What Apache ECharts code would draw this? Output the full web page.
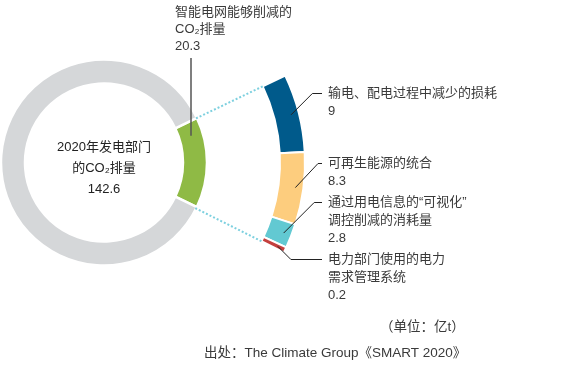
<!DOCTYPE html>
<html>
<head>
<meta charset="utf-8">
<script src="https://cdn.jsdelivr.net/npm/echarts@6/dist/echarts.min.js"></script>
<style>
html, body { margin: 0; padding: 0; background: #fff; }
#main { width: 570px; height: 375px; }
</style>
</head>
<body>
<div id="main"></div>
<script>
// 数据（单位：亿t）
const totalName = '2020年发电部门\n的CO₂排量';
const totalValue = 142.6;
const smartName = '智能电网能够削减的\nCO₂排量';
const smartValue = 20.3;
const partNames = [
    '输电、配电过程中减少的损耗',
    '可再生能源的统合',
    '通过用电信息的“可视化”\n调控削减的消耗量',
    '电力部门使用的电力\n需求管理系统'
];
const partValues = [9, 8.3, 2.8, 0.2];
const partColors = ['#005a8b', '#fdcd7e', '#62c9d2', '#c4403e'];

// 布局
const cx = 104, cy = 162.5;
const font = '"Liberation Sans", "Noto Sans CJK SC", sans-serif';
const textColor = '#3a3a3a';
const partLabelTop = [84, 154, 193, 250];
const minAngle = 1.6;

const rest = +(totalValue - smartValue).toFixed(1);
const half = smartValue / totalValue * 180;

// 按 ECharts 的 minAngle 规则算出右侧各段的角度
let fixedAngle = 0, bigSum = 0;
[...partValues, rest].forEach(v => {
    if (v / totalValue * 360 < minAngle) fixedAngle += minAngle;
    else bigSum += v;
});
const unit = (360 - fixedAngle) / bigSum;
const partAngles = partValues.map(v => v / totalValue * 360 < minAngle ? minAngle : v * unit);
const arcEnd = half - partAngles.reduce((a, b) => a + b, 0);

const rad = d => d * Math.PI / 180;
const pt = (r, a) => [cx + r * Math.cos(rad(a)), cy - r * Math.sin(rad(a))];

// 右侧引线
const leaders = [];
let acc = half;
partAngles.forEach((a, i) => {
    const mid = acc - a / 2;
    acc -= a;
    const p0 = pt(193, mid);
    const ly = partLabelTop[i] + 9.5;
    const bx = Math.min(p0[0] + Math.abs(ly - p0[1]), 318);
    leaders.push({
        type: 'polyline',
        silent: true,
        z: 100,
        shape: { points: [p0, [bx, ly], [322, ly]] },
        style: { stroke: '#222', lineWidth: 1, fill: null }
    });
});

// 绿色标签的竖线
const gx = 191;
const gy = cy - Math.sqrt(91 * 91 - (gx - cx) * (gx - cx));

const chart = echarts.init(document.getElementById('main'));

const option = {
    animation: false,
    polar: { center: [cx, cy], radius: 201 },
    angleAxis: { type: 'value', min: 0, max: 360, startAngle: 0, clockwise: false, show: false },
    radiusAxis: { type: 'value', min: 0, max: 201, show: false },
    series: [
        {
            type: 'pie',
            center: [cx, cy],
            radius: [79, 103],
            startAngle: half,
            avoidLabelOverlap: false,
            silent: true,
            itemStyle: { borderColor: '#fff', borderWidth: 2.5 },
            label: {
                show: true,
                position: 'outside',
                formatter: '{b}\n{c}',
                color: textColor,
                fontFamily: font,
                fontSize: 13,
                lineHeight: 17
            },
            labelLine: { show: false },
            labelLayout: p => p.dataIndex === 0
                ? { x: 175, y: 3.5, align: 'left', verticalAlign: 'top' }
                : {},
            data: [
                { name: smartName, value: smartValue, itemStyle: { color: '#8fba45' } },
                { name: '其他', value: rest, itemStyle: { color: '#d5d7d9' }, label: { show: false } }
            ]
        },
        {
            type: 'pie',
            center: [cx, cy],
            radius: [176, 201],
            startAngle: half,
            minAngle: minAngle,
            avoidLabelOverlap: false,
            silent: true,
            itemStyle: { borderColor: '#fff', borderWidth: 2 },
            label: {
                show: true,
                position: 'outside',
                formatter: '{b}\n{c}',
                color: textColor,
                fontFamily: font,
                fontSize: 13,
                lineHeight: 18
            },
            labelLine: { show: false },
            labelLayout: p => p.dataIndex < partNames.length
                ? { x: 328, y: partLabelTop[p.dataIndex], align: 'left', verticalAlign: 'top' }
                : {},
            data: [
                ...partNames.map((n, i) => ({ name: n, value: partValues[i], itemStyle: { color: partColors[i] } })),
                { name: '', value: rest, itemStyle: { color: 'transparent', borderWidth: 0 }, label: { show: false } }
            ]
        },
        {
            type: 'line',
            coordinateSystem: 'polar',
            silent: true,
            symbol: 'none',
            lineStyle: { type: [2, 2], width: 2, color: '#7dd0df' },
            data: [[102, half], [176, half]]
        },
        {
            type: 'line',
            coordinateSystem: 'polar',
            silent: true,
            symbol: 'none',
            lineStyle: { type: [2, 2], width: 2, color: '#7dd0df' },
            data: [[102, 360 + arcEnd], [176, 360 + arcEnd]]
        }
    ],
    graphic: [
        {
            type: 'text',
            silent: true,
            z: 100,
            x: cx,
            y: 168,
            style: {
                text: totalName + '\n' + totalValue,
                align: 'center',
                verticalAlign: 'middle',
                font: '13px ' + font,
                lineHeight: 21,
                fill: '#222'
            }
        },
        {
            type: 'polyline',
            silent: true,
            z: 100,
            shape: { points: [[gx, 58], [gx, gy]] },
            style: { stroke: '#555', lineWidth: 1.5, fill: null }
        },
        ...leaders,
        {
            type: 'text',
            silent: true,
            z: 100,
            x: 380,
            y: 327,
            style: { text: '（单位：亿t）', verticalAlign: 'middle', font: '13.5px ' + font, fill: textColor }
        },
        {
            type: 'text',
            silent: true,
            z: 100,
            x: 204,
            y: 353,
            style: { text: '出处：The Climate Group《SMART 2020》', verticalAlign: 'middle', font: '13.5px ' + font, fill: textColor }
        }
    ]
};

chart.setOption(option);
</script>
</body>
</html>
